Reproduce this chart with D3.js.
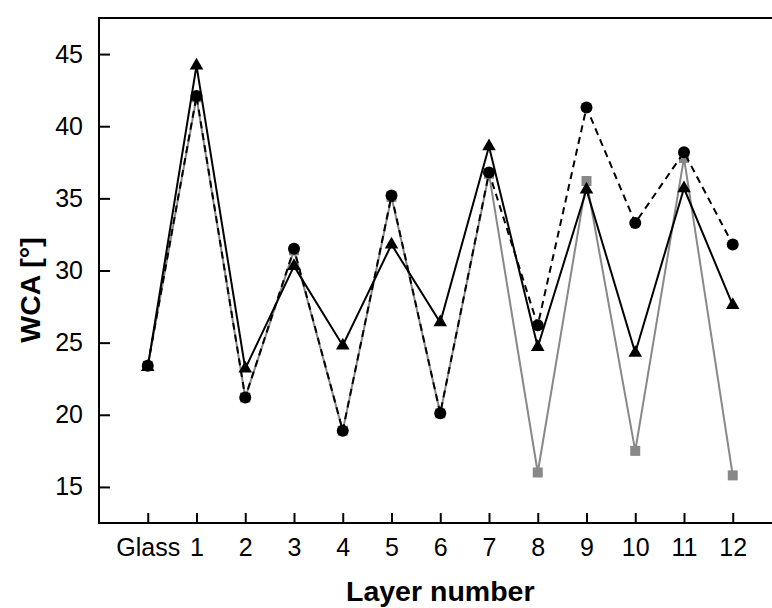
<!DOCTYPE html>
<html>
<head>
<meta charset="utf-8">
<script src="https://cdn.jsdelivr.net/npm/d3@7"></script>
<style>
  body { margin: 0; background: #fff; }
  svg { display: block; font-family: "Liberation Sans", Arial, sans-serif; }
</style>
</head>
<body>
<div id="chart"></div>
<script>
// data
const layers = ['Glass', '1', '2', '3', '4', '5', '6', '7', '8', '9', '10', '11', '12'];
const triangleWca = [23.3, 44.2, 23.2, 30.3, 24.8, 31.8, 26.4, 38.6, 24.7, 35.6, 24.3, 35.7, 27.6];
const circleWca = [23.4, 42.1, 21.2, 31.5, 18.9, 35.2, 20.1, 36.8, 26.2, 41.3, 33.3, 38.2, 31.8];
const squareWca = [23.4, 42.0, 21.2, 31.4, 18.9, 35.1, 20.1, 36.7, 16.0, 36.2, 17.5, 37.8, 15.8];
const yTicks = [15, 20, 25, 30, 35, 40, 45];

const width = 772, height = 608;
const plotLeft = 99, plotTop = 18, plotBottom = 523;

const svg = d3.select('#chart').append('svg')
  .attr('width', width)
  .attr('height', height);

const x = d3.scaleLinear().domain([-1, 13]).range([plotLeft, plotLeft + 14 * 48.75]);
const y = d3.scaleLinear().domain([12.5, 47.5]).range([plotBottom, plotTop]);

// frame (right side falls outside the picture)
svg.append('path')
  .attr('d', `M${x(13)},${plotTop}H${plotLeft}V${plotBottom}H${x(13)}`)
  .attr('fill', 'none')
  .attr('stroke', '#000')
  .attr('stroke-width', 2);

// axes with inward ticks
const yAxis = svg.append('g')
  .attr('transform', `translate(${plotLeft},0)`)
  .call(d3.axisLeft(y).tickValues(yTicks).tickSize(-11).tickPadding(16));
const xAxis = svg.append('g')
  .attr('transform', `translate(0,${plotBottom})`)
  .call(d3.axisBottom(x).tickValues(d3.range(layers.length)).tickFormat(i => layers[i]).tickSize(-10).tickPadding(15));

[yAxis, xAxis].forEach(g => {
  g.select('.domain').remove();
  g.selectAll('line').attr('stroke', '#000').attr('stroke-width', 2);
  g.selectAll('text').attr('fill', '#000').style('font-size', '25px').style('font-family', '"Liberation Sans", Arial, sans-serif');
});

// axis titles
svg.append('text')
  .attr('x', x(6))
  .attr('y', 601)
  .attr('text-anchor', 'middle')
  .style('font-size', '28.5px')
  .style('font-weight', 'bold')
  .text('Layer number');

svg.append('text')
  .attr('transform', 'translate(40,290) rotate(-90)')
  .attr('text-anchor', 'middle')
  .style('font-size', '28.5px')
  .style('font-weight', 'bold')
  .text('WCA [°]');

const line = d3.line().x((d, i) => x(i)).y(d => y(d));

// gray series (bottom)
svg.append('path')
  .datum(squareWca)
  .attr('d', line)
  .attr('fill', 'none')
  .attr('stroke', '#888')
  .attr('stroke-width', 2);
svg.append('g').selectAll('rect')
  .data(squareWca)
  .join('rect')
  .attr('x', (d, i) => x(i) - 5)
  .attr('y', d => y(d) - 5)
  .attr('width', 10)
  .attr('height', 10)
  .attr('fill', '#888');

// dashed circle series
svg.append('path')
  .datum(circleWca)
  .attr('d', line)
  .attr('fill', 'none')
  .attr('stroke', '#000')
  .attr('stroke-width', 2)
  .attr('stroke-dasharray', '7,5');

// solid triangle series
svg.append('path')
  .datum(triangleWca)
  .attr('d', line)
  .attr('fill', 'none')
  .attr('stroke', '#000')
  .attr('stroke-width', 2);

const tri = d3.symbol().type(d3.symbolTriangle).size(80);
svg.append('g').selectAll('path')
  .data(triangleWca)
  .join('path')
  .attr('transform', (d, i) => `translate(${x(i)},${y(d)})`)
  .attr('d', tri)
  .attr('fill', '#000');

svg.append('g').selectAll('circle')
  .data(circleWca)
  .join('circle')
  .attr('cx', (d, i) => x(i))
  .attr('cy', d => y(d))
  .attr('r', 6)
  .attr('fill', '#000');
</script>
</body>
</html>
